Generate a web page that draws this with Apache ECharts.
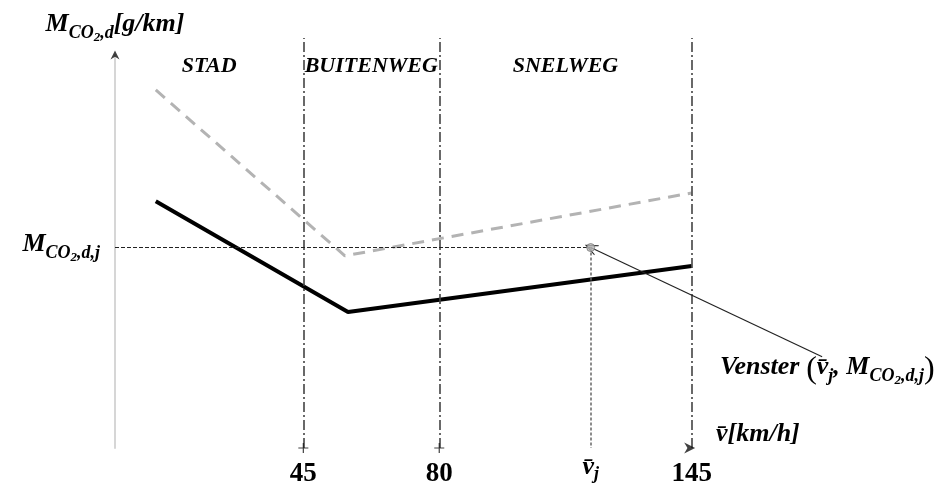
<!DOCTYPE html>
<html>
<head>
<meta charset="utf-8">
<script src="https://cdn.jsdelivr.net/npm/echarts@6/dist/echarts.min.js"></script>
<style>
  html, body { margin: 0; padding: 0; background: #fff; }
  #chart { width: 950px; height: 485px; }
</style>
</head>
<body>
<div id="chart"></div>
<script>
// Speed zones (km/h)
const regionNames = ['STAD', 'BUITENWEG', 'SNELWEG'];
const regionBounds = [-3.5, 45, 80, 145];
const zoneLines = [45, 80, 145];

// Measured emission curve (solid) and reference curve (dashed)
const actualSpeed = [7, 56.5, 145];
const actualEmission = [62.8, 34.6, 46.3];
const refSpeed = [7, 55.7, 145];
const refEmission = [91.1, 48.9, 64.9];

// Window point (v_j, M_CO2,d,j) and where its label sits
const windowSpeed = 119;
const windowEmission = 51;
const vensterAnchor = [178.6, 23.2];

// Tick labels on the speed axis
const xTickValues = [45, 80, windowSpeed, 145];
const crossTicks = [45, 80];

const xMin = -3.5, xMax = 185;
const yMin = 0, yMax = 100;
const serif = 'Liberation Serif';

function txt(size, pad, extra) {
    return Object.assign({
        fontFamily: serif, fontWeight: 'bold', fontStyle: 'italic', fontSize: size,
        color: '#000', verticalAlign: 'bottom', padding: [0, 0, pad, 0]
    }, extra || {});
}

const richText = {
    b: txt(26, 7),
    s: txt(18, 2),
    ss: txt(13, 0),
    vb: txt(26, 3),
    vs: txt(18, 0),
    n: txt(27, 0, { fontStyle: 'normal', padding: [7, 0, 0, 0] }),
    p: txt(32, 1, { fontWeight: 'normal', fontStyle: 'normal' })
};

const vBar = 'v\u0304';
const mSub = '{b|M}{s|CO}{ss|2}{s|,d}';

const chart = echarts.init(document.getElementById('chart'));

const crossSymbol = 'path://M0,4.4H10V5.6H0Z M4.4,0H5.6V10H4.4Z';
const rightArrow = 'path://M0,0L10,5L0,10L3,5Z';
const upArrow = 'path://M5,0L10,10L5,7L0,10Z';
const openArrow = 'path://M5,0L10,10L9,10L5,2.5L1,10L0,10Z';

const axisMarks = crossTicks.map(v => ({ value: [v, 0], symbol: crossSymbol, symbolSize: 10 }));
axisMarks.push({ value: [145, 0], symbol: rightArrow, symbolSize: [11, 11], symbolOffset: [-2, 0] });
axisMarks.push({ value: [xMin, yMax], symbol: upArrow, symbolSize: [9, 9] });

const option = {
    animation: false,
    grid: [
        { left: 115, right: 103, top: 38, bottom: 37, outerBoundsMode: 'none', containLabel: false },
        { left: 115, right: 103, top: 55, bottom: 37, outerBoundsMode: 'none', containLabel: false }
    ],
    xAxis: [
        { gridIndex: 0, type: 'value', min: xMin, max: xMax, show: false },
        {
            gridIndex: 1, type: 'value', min: xMin, max: xMax,
            axisLine: { show: false }, axisTick: { show: false }, splitLine: { show: false },
            axisLabel: {
                customValues: xTickValues,
                margin: 6,
                formatter: v => v === windowSpeed ? '{vb|' + vBar + '}{vs|j}' : '{n|' + v + '}',
                rich: richText
            }
        }
    ],
    yAxis: [
        { gridIndex: 0, type: 'value', min: 0, max: 1, show: false },
        {
            gridIndex: 1, type: 'value', min: yMin, max: yMax,
            axisLine: { show: true, onZero: false, lineStyle: { color: '#d6d6d6', width: 2 } },
            axisTick: { show: false }, splitLine: { show: false },
            axisLabel: {
                customValues: [windowEmission],
                margin: 15,
                formatter: () => mSub + '{s|,j}',
                rich: richText
            },
            name: mSub + '{b|[g/km]}',
            nameLocation: 'end',
            nameGap: 11,
            nameTextStyle: { align: 'center', verticalAlign: 'bottom', rich: richText }
        }
    ],
    graphic: [
        {
            type: 'text', left: 716, top: 421,
            style: { text: '{b|' + vBar + '[km/h]}', rich: richText }
        },
        {
            type: 'text', left: 720, top: 354,
            style: { text: '{b|Venster}  {p|(}{b|' + vBar + '}{s|j}{b|, M}{s|CO}{ss|2}{s|,d,j}{p|)}', rich: richText }
        }
    ],
    series: [
        {
            // zone separators and zone names
            type: 'line', xAxisIndex: 0, yAxisIndex: 0, data: [],
            markLine: {
                silent: true, symbol: 'none', label: { show: false },
                lineStyle: { color: '#444', width: 1.6, type: [10, 3, 2, 3] },
                data: zoneLines.map(v => ({ xAxis: v }))
            },
            markArea: {
                silent: true,
                itemStyle: { color: 'rgba(0,0,0,0)' },
                label: {
                    position: 'insideTop', distance: 17,
                    fontFamily: serif, fontWeight: 'bold', fontStyle: 'italic', fontSize: 22, color: '#000'
                },
                data: regionNames.map((name, i) => [
                    { name: name, xAxis: regionBounds[i] },
                    { xAxis: regionBounds[i + 1] }
                ])
            }
        },
        {
            name: 'reference', type: 'line', xAxisIndex: 1, yAxisIndex: 1,
            data: refSpeed.map((v, i) => [v, refEmission[i]]),
            symbol: 'none',
            lineStyle: { color: '#b3b3b3', width: 3, type: [12, 8] }
        },
        {
            name: 'actual', type: 'line', xAxisIndex: 1, yAxisIndex: 1,
            data: actualSpeed.map((v, i) => [v, actualEmission[i]]),
            symbol: 'none',
            lineStyle: { color: '#000', width: 4 }
        },
        {
            name: 'window', type: 'scatter', xAxisIndex: 1, yAxisIndex: 1,
            data: [[windowSpeed, windowEmission]],
            symbolSize: 8,
            itemStyle: { color: '#b8b8b8', borderColor: '#777', borderWidth: 1 },
            z: 5,
            markLine: {
                silent: true, symbol: 'none', label: { show: false },
                data: [
                    [{ coord: [xMin, windowEmission], lineStyle: { color: '#222', width: 1, type: [4, 2] } },
                     { coord: [windowSpeed, windowEmission] }],
                    [{ coord: [windowSpeed, windowEmission], lineStyle: { color: '#666', width: 1.5, type: [3, 2] } },
                     { coord: [windowSpeed, 0] }],
                    [{ coord: vensterAnchor, symbol: 'none', lineStyle: { color: '#222', width: 1.2, type: 'solid' } },
                     { coord: [windowSpeed, windowEmission], symbol: openArrow, symbolSize: [11, 13] }]
                ]
            }
        },
        {
            name: 'axisMarks', type: 'scatter', xAxisIndex: 1, yAxisIndex: 1,
            data: axisMarks,
            itemStyle: { color: '#111' },
            clip: false,
            z: 6
        }
    ]
};

chart.setOption(option);
</script>
</body>
</html>
